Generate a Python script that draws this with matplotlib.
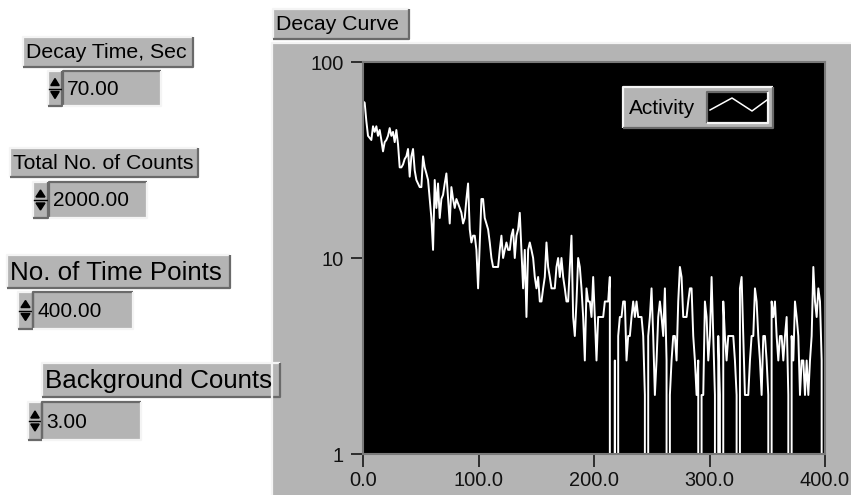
import numpy as np
import matplotlib
matplotlib.use('Agg')
import matplotlib.pyplot as plt
from matplotlib.patches import Rectangle, Polygon

plt.rcParams['font.family'] = ['Liberation Sans', 'DejaVu Sans']

# front panel controls
control_labels = ['Decay Time, Sec', 'Total No. of Counts', 'No. of Time Points', 'Background Counts']
control_values = ['70.00', '2000.00', '400.00', '3.00']
graph_title = 'Decay Curve'
series_name = 'Activity'
x_ticks = [0, 100, 200, 300, 400]
x_ticklabels = ['0.0', '100.0', '200.0', '300.0', '400.0']
y_ticks = [1, 10, 100]
y_ticklabels = ['1', '10', '100']

# counts, left to right (0 = empty bin)
activity = [
    63, 62, 50, 42, 41, 40, 47, 44, 47, 42, 45, 40, 35, 39, 40, 42, 46, 42, 44, 39,
    45, 38, 29, 29, 30, 32, 33, 36, 26, 33, 36, 28, 25, 24, 23, 23, 33, 29, 27, 25,
    20, 16, 11, 25, 18, 24, 16, 20, 21, 24, 27,
    20, 15, 23, 20, 18, 20, 19, 18, 17, 15, 16, 20, 24, 14, 12, 13, 13, 11, 7, 12,
    20, 20, 16, 15, 14, 12, 10, 9, 9, 9, 9, 11, 13, 10, 11, 12, 11, 11, 13, 14,
    10, 13, 14, 17, 11, 7, 11, 5, 11, 12, 11, 10, 8, 7, 8, 6,
    6, 7, 8, 12, 9, 8, 7, 7, 7, 9, 10, 8, 10, 8, 7, 6, 6, 9, 13, 5,
    4, 6, 10, 9, 7, 5, 3, 7, 6, 6, 5, 8, 5, 3, 5, 5, 5, 5, 6, 6,
    6, 8, 0, 0, 3, 0, 4, 5, 5, 6, 6, 3, 4, 4, 5, 6, 5, 6,
    5, 5, 5, 4, 2, 0, 4, 5, 7, 4, 2, 3, 5, 6, 5, 4, 7, 3, 0, 2,
    3, 4, 4, 3, 6, 9, 8, 5, 5, 5, 6, 7, 7, 4, 3, 2, 3, 0, 2, 2,
    6, 5, 3, 4, 8, 4, 2, 0, 4, 2, 0, 6, 4, 3, 4, 4, 4, 4,
    3, 2, 0, 7, 8, 4, 2, 2, 2, 3, 4, 4, 7, 6, 4, 3, 2, 4, 4, 3,
    2, 0, 6, 5, 6, 4, 3, 4, 4, 3, 4, 5, 2, 0, 4, 3, 6, 5, 4, 2,
    3, 3, 2, 3, 2, 3, 4, 9, 6, 5, 7, 6, 3, 0, 6,
]
time = np.linspace(0, 400, len(activity))

W, H = 851, 495
GRAY = '#b4b4b4'
LIGHT = '#f4f4f4'
DARK = '#6a6a6a'

fig = plt.figure(figsize=(W / 100, H / 100), dpi=100)
fig.patch.set_facecolor('white')

# background axes in pixel units (y down) for the panel decorations
bg = fig.add_axes([0, 0, 1, 1], zorder=-1)
bg.set_xlim(0, W)
bg.set_ylim(H, 0)
bg.axis('off')


def bevel(ax, x0, y0, x1, y1, raised=True, fill=GRAY, lw=1.6):
    ax.add_patch(Rectangle((x0, y0), x1 - x0, y1 - y0, facecolor=fill, edgecolor='none'))
    tl, br = (LIGHT, DARK) if raised else (DARK, LIGHT)
    ax.plot([x0, x0, x1], [y1, y0, y0], color=tl, lw=lw, solid_capstyle='butt')
    ax.plot([x0, x1, x1], [y1, y1, y0], color=br, lw=lw, solid_capstyle='butt')


def spinner(ax, x0, y0, x1, y1):
    bevel(ax, x0, y0, x1, y1, raised=True)
    xm, ym = (x0 + x1) / 2, (y0 + y1) / 2
    w = (x1 - x0) * 0.3
    ax.add_patch(Polygon([[xm - w, ym - 3], [xm + w, ym - 3], [xm, ym - 10]], color='black'))
    ax.add_patch(Polygon([[xm - w, ym + 3], [xm + w, ym + 3], [xm, ym + 10]], color='black'))
    ax.plot([x0 + 1, x1 - 1], [ym, ym], color='black', lw=1)


def control(ax, label, value, lbox, sbox, fbox, fs):
    bevel(ax, *lbox, raised=True)
    ax.text(lbox[0] + 3, (lbox[1] + lbox[3]) / 2 + 1, label, fontsize=fs, va='center', ha='left')
    spinner(ax, *sbox)
    bevel(ax, *fbox, raised=False)
    ax.text(fbox[0] + 4, (fbox[1] + fbox[3]) / 2 + 1, value, fontsize=15, va='center', ha='left')


control(bg, control_labels[0], control_values[0], (23, 37, 193, 67), (48, 71, 62, 106), (63, 71, 161, 106), 15.3)
control(bg, control_labels[1], control_values[1], (10, 148, 198, 177), (33, 182, 48, 218), (49, 182, 147, 218), 15.3)
control(bg, control_labels[2], control_values[2], (7, 255, 230, 288), (18, 292, 33, 329), (33, 292, 133, 329), 18.6)
control(bg, control_labels[3], control_values[3], (42, 363, 280, 397), (28, 402, 42, 440), (42, 402, 141, 440), 18.6)

# graph title and frame
bevel(bg, 273, 9, 409, 39, raised=True)
bg.text(276, 25, graph_title, fontsize=15.3, va='center', ha='left')
bevel(bg, 272, 43, W + 5, H + 5, raised=True)

# decay curve plot
px0, py0, px1, py1 = 363, 62, 825, 454
ax = fig.add_axes([px0 / W, 1 - py1 / H, (px1 - px0) / W, (py1 - py0) / H])
ax.set_facecolor('black')
ax.plot(time, activity, color='white', lw=1.4, label=series_name)
ax.set_yscale('log', nonpositive='clip')
ax.set_xlim(0, 400)
ax.set_ylim(1, 100)
ax.set_xticks(x_ticks)
ax.set_xticklabels(x_ticklabels)
ax.set_yticks(y_ticks)
ax.set_yticklabels(y_ticklabels)
ax.minorticks_off()
ax.tick_params(axis='both', direction='out', length=9, width=1.3, color='#222222',
               labelsize=14.4, labelcolor='#111111')
ax.tick_params(axis='x', pad=3)
ax.tick_params(axis='y', pad=5)
for s in ax.spines.values():
    s.set_color('#7a7a7a')
    s.set_linewidth(1.5)

# legend drawn LabVIEW style
fg = fig.add_axes([0, 0, 1, 1], zorder=5)
fg.set_xlim(0, W)
fg.set_ylim(H, 0)
fg.axis('off')
fg.patch.set_alpha(0)
bevel(fg, 623, 87, 773, 128, raised=True)
fg.text(629, 108, series_name, fontsize=15, va='center', ha='left')
bevel(fg, 707, 92, 768, 123, raised=False, fill='black')
fg.plot([710, 732, 752, 767], [110, 98, 111, 100], color='white', lw=1.1)

fig.savefig('out.png', dpi=100, facecolor='white')
